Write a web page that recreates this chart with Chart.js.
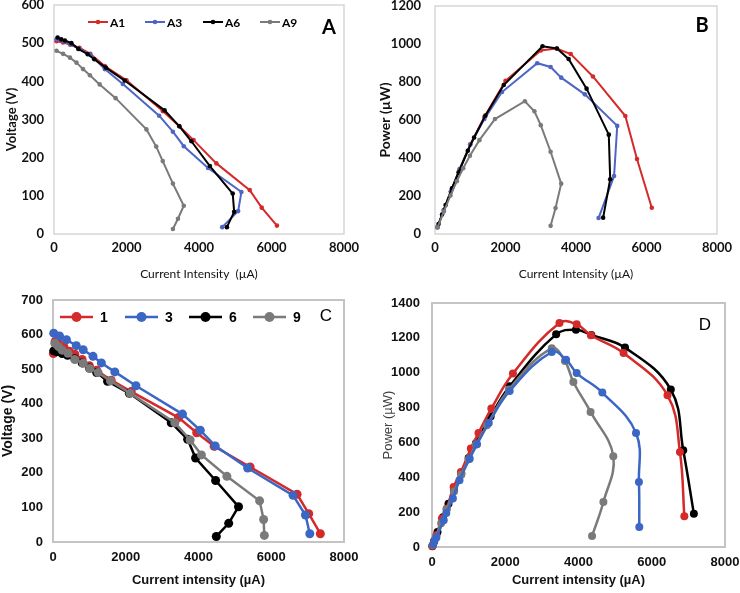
<!DOCTYPE html>
<html>
<head>
<meta charset="utf-8">
<script src="https://cdn.jsdelivr.net/npm/chart.js"></script>
<style>
html, body { margin: 0; padding: 0; background: #fff; }
#fig { position: relative; width: 740px; height: 593px; overflow: hidden; background: #fff; }
.panel { position: absolute; }
</style>
</head>
<body>
<div id="fig">
  <div class="panel" style="left:0;top:0"><canvas id="cA" width="370" height="290"></canvas></div>
  <div class="panel" style="left:370px;top:0"><canvas id="cB" width="370" height="290"></canvas></div>
  <div class="panel" style="left:0;top:290px"><canvas id="cC" width="370" height="303"></canvas></div>
  <div class="panel" style="left:370px;top:290px"><canvas id="cD" width="370" height="303"></canvas></div>
</div>
<script>
// ---- data (current in µA, voltage in mV, power in µW) ----
const xTicks = [0, 2000, 4000, 6000, 8000];

// panel A / B : series A1, A3, A6, A9
const A1_I = [70, 250, 450, 700, 1000, 1400, 2000, 3000, 3450, 3850, 4480, 5400, 5730, 6150];
const A1_V = [505, 502, 496, 488, 472, 440, 403, 322, 283, 246, 185, 115, 69, 22];
const A1_P = [35, 126, 223, 342, 472, 616, 806, 966, 976, 947, 829, 621, 395, 138];

const A3_I = [70, 250, 450, 700, 1000, 1400, 1900, 2900, 3280, 3580, 4250, 5170, 5080, 4640];
const A3_V = [510, 505, 497, 485, 470, 432, 393, 310, 268, 230, 173, 110, 60, 18];
const A3_P = [36, 126, 224, 340, 470, 605, 747, 899, 879, 823, 735, 569, 305, 84];

const A6_I = [100, 200, 300, 480, 670, 930, 1110, 1430, 1950, 3050, 3460, 3790, 4300, 4930, 4970, 4770];
const A6_V = [515, 510, 507, 500, 485, 471, 458, 436, 402, 324, 282, 243, 178, 106, 58, 18];
const A6_P = [52, 102, 152, 240, 325, 438, 508, 623, 784, 988, 976, 921, 765, 523, 288, 86];

const A9_I = [70, 250, 440, 620, 800, 990, 1260, 1700, 2550, 2820, 3000, 3280, 3580, 3420, 3280];
const A9_V = [480, 472, 462, 449, 432, 416, 392, 356, 274, 229, 191, 132, 74, 40, 13];
const A9_P = [34, 118, 203, 278, 346, 412, 494, 605, 699, 646, 573, 433, 265, 137, 43];

// panel C : series 1, 3, 6, 9
const C1_I = [10, 60, 150, 300, 450, 600, 800, 1000, 1200, 1600, 2150, 3450, 3950, 4430, 5420, 6710, 7030, 7350];
const C1_V = [545, 580, 575, 565, 552, 543, 528, 510, 497, 468, 435, 360, 316, 277, 217, 138, 82, 24];
const C3_I = [20, 180, 370, 640, 830, 1100, 1330, 1700, 2280, 3560, 4050, 4460, 5350, 6600, 6940, 7060];
const C3_V = [604, 596, 585, 568, 556, 537, 518, 492, 452, 370, 323, 278, 214, 135, 78, 24];
const C6_I = [20, 100, 250, 400, 600, 800, 1000, 1200, 1500, 2100, 3250, 3700, 3920, 4470, 5100, 4830, 4490];
const C6_V = [553, 550, 545, 540, 530, 518, 503, 490, 465, 430, 345, 297, 243, 178, 102, 54, 16];
const C9_I = [50, 150, 250, 410, 600, 830, 1010, 1240, 1580, 2120, 3350, 3770, 4080, 4780, 5680, 5790, 5810];
const C9_V = [575, 565, 555, 546, 528, 517, 502, 490, 466, 430, 345, 295, 252, 190, 119, 65, 19];

// panel D : power curves (no legend in the figure)
const D1_I = [10, 60, 150, 300, 450, 600, 800, 1000, 1200, 1600, 2120, 3390, 3930, 4350, 5270, 6520, 6860, 7150];
const D1_P = [5, 35, 86, 170, 248, 326, 422, 510, 596, 749, 922, 1220, 1247, 1217, 1144, 903, 555, 191];
const D3_I = [10, 60, 120, 270, 400, 590, 790, 1060, 1270, 1620, 2210, 3480, 3950, 4340, 5230, 6430, 6770, 6890];
const D3_P = [6, 35, 67, 163, 220, 344, 430, 565, 654, 794, 995, 1285, 1278, 1215, 1113, 870, 545, 176];
const D6_I = [20, 100, 250, 400, 600, 800, 1000, 1200, 1500, 2100, 3270, 3630, 3860, 4330, 4950, 4680, 4370];
const D6_P = [11, 55, 136, 216, 318, 414, 503, 588, 698, 903, 1140, 1067, 947, 775, 520, 258, 63];
const D9_I = [30, 60, 120, 320, 390, 570, 750, 1030, 1230, 1550, 2120, 3270, 3660, 3950, 4650, 5570, 5650, 5660];
const D9_P = [15, 30, 55, 153, 195, 278, 383, 507, 589, 711, 895, 1119, 1075, 998, 886, 654, 373, 115];

const RED = '#d42a2a', BLUE_A = '#4f65c6', BLUE_C = '#3a66c4', BLACK = '#000000', GRAY = '#7a7a7a';

// ---- helpers ----
function pts(xs, ys) {
    return xs.map((x, i) => ({ x: x, y: ys[i] }));
}

// box round plot area, panel letter, legend inside plot
const framePlugin = {
    id: 'frame',
    beforeDatasetsDraw(chart, args, o) {
        const { ctx, chartArea: a } = chart;
        ctx.save();
        ctx.strokeStyle = o.box;
        ctx.lineWidth = o.boxWidth;
        ctx.strokeRect(a.left, a.top, a.right - a.left, a.bottom - a.top);
        ctx.restore();
    },
    afterDraw(chart, args, o) {
        const ctx = chart.ctx;
        ctx.save();
        ctx.fillStyle = '#000';
        ctx.textAlign = 'center';
        ctx.textBaseline = 'middle';
        ctx.font = o.letterFont;
        ctx.fillText(o.letter, o.letterX, o.letterY);
        if (o.legend) {
            const lg = o.legend;
            ctx.font = lg.font;
            ctx.textAlign = 'left';
            chart.data.datasets.forEach((ds, i) => {
                const x = lg.x[i];
                ctx.strokeStyle = ds.borderColor;
                ctx.fillStyle = ds.borderColor;
                ctx.lineWidth = lg.lineWidth;
                ctx.beginPath();
                ctx.moveTo(x, lg.y);
                ctx.lineTo(x + lg.len, lg.y);
                ctx.stroke();
                ctx.beginPath();
                ctx.arc(x + lg.len / 2, lg.y, lg.r, 0, Math.PI * 2);
                ctx.fill();
                ctx.fillStyle = '#000';
                ctx.fillText(ds.label, x + lg.len + lg.gap, lg.y + 1);
            });
        }
        ctx.restore();
    }
};

function buildChart(id, o) {
    const datasets = o.series.map((s, i) => ({
        label: s.label,
        data: pts(s.x, s.y),
        borderColor: s.color,
        backgroundColor: s.color,
        pointBackgroundColor: s.color,
        pointBorderColor: s.color,
        pointBorderWidth: 0,
        pointRadius: o.pointRadius,
        borderWidth: o.lineWidth,
        tension: o.tension,
        clip: false,
        order: o.series.length - i
    }));
    const tickCol = '#111';
    return new Chart(document.getElementById(id), {
        type: 'line',
        data: { datasets: datasets },
        options: {
            responsive: false,
            animation: false,
            events: [],
            layout: { padding: o.pad },
            plugins: {
                legend: { display: false },
                tooltip: { enabled: false },
                frame: o.frame
            },
            scales: {
                x: {
                    type: 'linear', min: 0, max: 8000,
                    afterBuildTicks: s => { s.ticks = xTicks.map(v => ({ value: v })); },
                    ticks: { color: tickCol, font: o.tickFont, padding: o.xTickPad, maxRotation: 0,
                             callback: v => String(v) },
                    grid: { display: false, drawTicks: false },
                    border: { display: false },
                    title: { display: true, text: o.xTitle, color: o.titleColor, font: o.xTitleFont,
                             padding: { top: 0, bottom: o.xTitlePad } },
                    afterFit: s => { s.height = o.xH; s.paddingLeft = 0; s.paddingRight = 0; }
                },
                y: {
                    min: 0, max: o.yMax,
                    ticks: { stepSize: o.yStep, color: tickCol, font: o.tickFont, padding: o.yTickPad,
                             callback: v => String(v) },
                    grid: { display: false, drawTicks: false },
                    border: { display: false },
                    title: { display: true, text: o.yTitle, color: o.yTitleColor || o.titleColor, font: o.yTitleFont,
                             padding: { top: o.yTitlePad, bottom: 0 } },
                    afterFit: s => { s.width = o.yW; s.paddingTop = 0; s.paddingBottom = 0; }
                }
            }
        },
        plugins: [framePlugin]
    });
}

const LATO = 'Lato, "Open Sans", sans-serif';
const ARIAL = '"Liberation Sans", Arial, sans-serif';

// ---- A : voltage vs current ----
buildChart('cA', {
    series: [
        { label: 'A1', x: A1_I, y: A1_V, color: RED },
        { label: 'A3', x: A3_I, y: A3_V, color: BLUE_A },
        { label: 'A6', x: A6_I, y: A6_V, color: BLACK },
        { label: 'A9', x: A9_I, y: A9_V, color: GRAY }
    ],
    pad: { top: 5, right: 26, left: 0, bottom: 0 }, yW: 54, xH: 56,
    yMax: 600, yStep: 100, lineWidth: 2, pointRadius: 2.3, tension: 0,
    tickFont: { family: LATO, size: 13, weight: 'bold' }, yTickPad: 10, xTickPad: 6,
    yTitle: 'Voltage (V)', yTitleFont: { family: LATO, size: 13, weight: 'bold' }, yTitlePad: 4,
    xTitle: 'Current Intensity  (µA)', xTitleFont: { family: LATO, size: 12 }, xTitlePad: 9,
    titleColor: '#111',
    frame: {
        box: '#d6d6d6', boxWidth: 1.5, letter: 'A', letterX: 329, letterY: 28,
        letterFont: 'bold 20px ' + LATO,
        legend: { x: [88, 145, 203, 260], y: 22, len: 20, gap: 2, r: 2.3, lineWidth: 2, font: 'bold 12px ' + LATO }
    }
});

// ---- B : power vs current ----
buildChart('cB', {
    series: [
        { label: 'A1', x: A1_I, y: A1_P, color: RED },
        { label: 'A3', x: A3_I, y: A3_P, color: BLUE_A },
        { label: 'A6', x: A6_I, y: A6_P, color: BLACK },
        { label: 'A9', x: A9_I, y: A9_P, color: GRAY }
    ],
    pad: { top: 6, right: 23, left: 0, bottom: 0 }, yW: 65, xH: 56,
    yMax: 1200, yStep: 200, lineWidth: 2, pointRadius: 2.3, tension: 0,
    tickFont: { family: LATO, size: 13, weight: 'bold' }, yTickPad: 14, xTickPad: 6,
    yTitle: 'Power (µW)', yTitleFont: { family: LATO, size: 14, weight: 'bold' }, yTitlePad: 7,
    xTitle: 'Current Intensity (µA)', xTitleFont: { family: LATO, size: 12 }, xTitlePad: 9,
    titleColor: '#111',
    frame: { box: '#d6d6d6', boxWidth: 1.5, letter: 'B', letterX: 332, letterY: 26, letterFont: 'bold 20px ' + LATO }
});

// ---- C : voltage vs current ----
buildChart('cC', {
    series: [
        { label: '1', x: C1_I, y: C1_V, color: RED },
        { label: '3', x: C3_I, y: C3_V, color: BLUE_C },
        { label: '6', x: C6_I, y: C6_V, color: BLACK },
        { label: '9', x: C9_I, y: C9_V, color: GRAY }
    ],
    pad: { top: 10, right: 26, left: 0, bottom: 0 }, yW: 53, xH: 51,
    yMax: 700, yStep: 100, lineWidth: 2.5, pointRadius: 4.5, tension: 0,
    tickFont: { family: ARIAL, size: 13, weight: 'bold' }, yTickPad: 10, xTickPad: 8,
    yTitle: 'Voltage (V)', yTitleFont: { family: ARIAL, size: 14, weight: 'bold' }, yTitlePad: 0,
    xTitle: 'Current intensity (µA)', xTitleFont: { family: ARIAL, size: 13, weight: 'bold' }, xTitlePad: 5,
    titleColor: '#111',
    frame: {
        box: '#c4c4c4', boxWidth: 2, letter: 'C', letterX: 326, letterY: 26,
        letterFont: '17px ' + ARIAL,
        legend: { x: [60, 125, 189, 253], y: 27, len: 33, gap: 7, r: 5, lineWidth: 2.5, font: 'bold 14px ' + ARIAL }
    }
});

// ---- D : power vs current ----
buildChart('cD', {
    series: [
        { label: '1', x: D1_I, y: D1_P, color: BLACK },
        { label: '3', x: D3_I, y: D3_P, color: RED },
        { label: '6', x: D6_I, y: D6_P, color: GRAY },
        { label: '9', x: D9_I, y: D9_P, color: BLUE_C }
    ],
    pad: { top: 13, right: 15, left: 0, bottom: 0 }, yW: 62, xH: 46,
    yMax: 1400, yStep: 200, lineWidth: 2.5, pointRadius: 4, tension: 0.4,
    tickFont: { family: ARIAL, size: 13, weight: 'bold' }, yTickPad: 12, xTickPad: 8,
    yTitle: 'Power (µW)', yTitleFont: { family: ARIAL, size: 13 }, yTitlePad: 11, yTitleColor: '#404040',
    xTitle: 'Current intensity (µA)', xTitleFont: { family: ARIAL, size: 13, weight: 'bold' }, xTitlePad: 5,
    titleColor: '#111',
    frame: { box: '#c4c4c4', boxWidth: 2, letter: 'D', letterX: 335, letterY: 35, letterFont: '17px ' + ARIAL }
});
</script>
</body>
</html>
